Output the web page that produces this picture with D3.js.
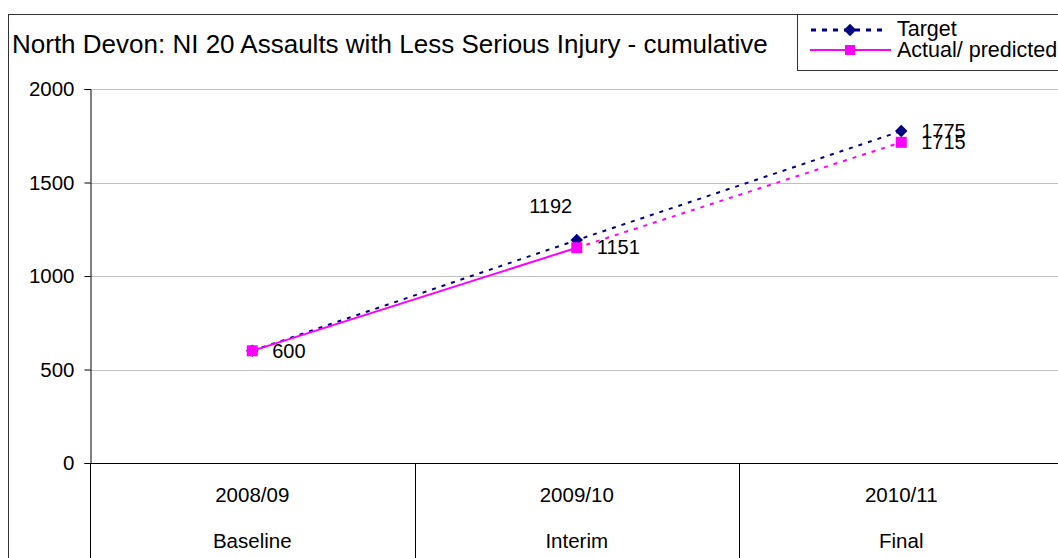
<!DOCTYPE html>
<html>
<head>
<meta charset="utf-8">
<script src="https://cdn.jsdelivr.net/npm/d3@7"></script>
<style>
  body { margin: 0; background: white; }
  text { font-family: "Liberation Sans", Arial, sans-serif; }
</style>
</head>
<body>
<script>
const years = ["2008/09", "2009/10", "2010/11"];
const stages = ["Baseline", "Interim", "Final"];
const target = [600, 1192, 1775];
const actual = [600, 1151, 1715];
const yTicks = [0, 500, 1000, 1500, 2000];

const svg = d3.select("body").append("svg")
    .attr("width", 1058)
    .attr("height", 558);

// outer chart border
svg.append("rect")
    .attr("x", 8.5).attr("y", 14.5)
    .attr("width", 1100).attr("height", 600)
    .style("fill", "white")
    .style("stroke", "#333")
    .style("stroke-width", 1);

svg.append("text")
    .attr("x", 12).attr("y", 53)
    .style("font-size", "26px")
    .text("North Devon: NI 20 Assaults with Less Serious Injury - cumulative");

const plotL = 90, plotR = 1063, plotT = 89, plotB = 463;

const x = d3.scaleBand().domain(years).range([plotL, 1063.5]);
const y = d3.scaleLinear().domain([0, 2000]).range([plotB, plotT]);

// gridlines
svg.selectAll(".grid")
    .data(yTicks.filter(d => d > 0))
    .join("line")
    .attr("class", "grid")
    .attr("x1", plotL).attr("x2", plotR)
    .attr("y1", d => Math.round(y(d)) + 0.5)
    .attr("y2", d => Math.round(y(d)) + 0.5)
    .style("stroke", "#c0c0c0");

// y axis
const yAxis = svg.append("g")
    .attr("transform", `translate(${plotL + 0.5},0)`)
    .call(d3.axisLeft(y).tickValues(yTicks).tickFormat(d3.format("d")).tickSize(6).tickPadding(10));
yAxis.select(".domain").style("stroke", "#000");
yAxis.selectAll(".tick line").style("stroke", "#000");
yAxis.selectAll(".tick text")
    .style("font-size", "20.5px")
    .style("font-family", "Liberation Sans, Arial, sans-serif")
    .style("fill", "#000");

// category table below the axis
svg.append("line")
    .attr("x1", plotL).attr("x2", plotR)
    .attr("y1", plotB + 0.5).attr("y2", plotB + 0.5)
    .style("stroke", "#000");
svg.selectAll(".colsep")
    .data(years)
    .join("line")
    .attr("class", "colsep")
    .attr("x1", d => Math.round(x(d)) + 0.5)
    .attr("x2", d => Math.round(x(d)) + 0.5)
    .attr("y1", plotB).attr("y2", 560)
    .style("stroke", "#000");
svg.selectAll(".yearlab")
    .data(years)
    .join("text")
    .attr("class", "yearlab")
    .attr("x", d => x(d) + x.bandwidth() / 2)
    .attr("y", 502)
    .attr("text-anchor", "middle")
    .style("font-size", "20.5px")
    .text(d => d);
svg.selectAll(".stagelab")
    .data(stages)
    .join("text")
    .attr("class", "stagelab")
    .attr("x", (d, i) => x(years[i]) + x.bandwidth() / 2)
    .attr("y", 548)
    .attr("text-anchor", "middle")
    .style("font-size", "20.5px")
    .text(d => d);

const cx = (d, i) => x(years[i]) + x.bandwidth() / 2;
const line = d3.line().x(cx).y(d => y(d));

// target: dotted navy
svg.append("path")
    .attr("d", line(target))
    .style("fill", "none")
    .style("stroke", "#000080")
    .style("stroke-width", 2)
    .style("stroke-dasharray", "4,6");

// actual: solid to interim, dotted to final
const actualPts = actual.map((d, i) => [cx(d, i), y(d)]);
svg.append("path")
    .attr("d", d3.line()(actualPts.slice(0, 2)))
    .style("fill", "none")
    .style("stroke", "#ff00ff")
    .style("stroke-width", 2);
svg.append("path")
    .attr("d", d3.line()(actualPts.slice(1)))
    .style("fill", "none")
    .style("stroke", "#ff00ff")
    .style("stroke-width", 2)
    .style("stroke-dasharray", "4,6");

// markers
svg.selectAll(".diamond")
    .data(target)
    .join("path")
    .attr("class", "diamond")
    .attr("d", d3.symbol(d3.symbolDiamond2, 100)())
    .attr("transform", (d, i) => `translate(${cx(d, i)},${y(d)})`)
    .style("fill", "#000080");
svg.selectAll(".square")
    .data(actual)
    .join("rect")
    .attr("class", "square")
    .attr("x", (d, i) => cx(d, i) - 5.5)
    .attr("y", d => y(d) - 5.5)
    .attr("width", 11).attr("height", 11)
    .style("fill", "#ff00ff");

// data labels
const tLabOff = [[0, 0], [-26, -27], [20, 7]];
const aLabOff = [[20, 7], [20, 6], [20, 7]];
svg.selectAll(".tlab")
    .data(target)
    .join("text")
    .attr("class", "tlab")
    .attr("x", (d, i) => cx(d, i) + tLabOff[i][0])
    .attr("y", (d, i) => y(d) + tLabOff[i][1])
    .attr("text-anchor", (d, i) => i === 1 ? "middle" : "start")
    .style("font-size", "20px")
    .text((d, i) => i === 0 ? "" : d);
svg.selectAll(".alab")
    .data(actual)
    .join("text")
    .attr("class", "alab")
    .attr("x", (d, i) => cx(d, i) + aLabOff[i][0])
    .attr("y", (d, i) => y(d) + aLabOff[i][1])
    .style("font-size", "20px")
    .text(d => d);

// legend
const lg = svg.append("g");
lg.append("rect")
    .attr("x", 797.5).attr("y", 14.5)
    .attr("width", 300).attr("height", 56)
    .style("fill", "white")
    .style("stroke", "#333");
lg.append("line")
    .attr("x1", 811).attr("x2", 888).attr("y1", 30).attr("y2", 30)
    .style("stroke", "#000080").style("stroke-width", 3).style("stroke-dasharray", "5,6");
lg.append("path")
    .attr("d", d3.symbol(d3.symbolDiamond2, 100)())
    .attr("transform", "translate(850,30)")
    .style("fill", "#000080");
lg.append("line")
    .attr("x1", 810).attr("x2", 891).attr("y1", 50).attr("y2", 50)
    .style("stroke", "#ff00ff").style("stroke-width", 2);
lg.append("rect")
    .attr("x", 845).attr("y", 45).attr("width", 10).attr("height", 10)
    .style("fill", "#ff00ff");
lg.append("text").attr("x", 897).attr("y", 36).style("font-size", "21.5px").text("Target");
lg.append("text").attr("x", 897).attr("y", 57).style("font-size", "21.5px").text("Actual/ predicted");
</script>
</body>
</html>
